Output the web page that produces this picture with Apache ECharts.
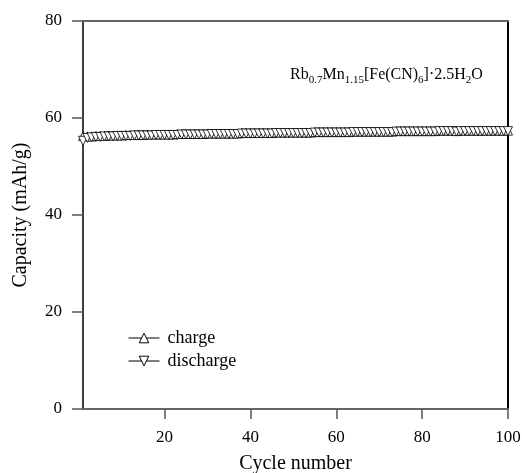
<!DOCTYPE html>
<html>
<head>
<meta charset="utf-8">
<script src="https://cdn.jsdelivr.net/npm/echarts@6/dist/echarts.min.js"></script>
<style>html,body{margin:0;padding:0;background:#fff;}#c{width:522px;height:473px;}</style>
</head>
<body>
<div id="c"></div>
<script>
var cycles = [];
for (var i = 1; i <= 100; i++) cycles.push(i);
var chargeCapacity = [
56.3,56.2,56.2,56.3,56.3,56.3,56.4,56.4,56.4,56.4,
56.5,56.5,56.5,56.5,56.5,56.6,56.6,56.6,56.6,56.6,
56.6,56.6,56.7,56.7,56.7,56.7,56.7,56.7,56.7,56.8,
56.8,56.8,56.8,56.8,56.8,56.8,56.8,56.9,56.9,56.9,
56.9,56.9,56.9,56.9,56.9,57.0,57.0,57.0,57.0,57.0,
57.0,57.0,57.0,57.0,57.1,57.1,57.1,57.1,57.1,57.1,
57.1,57.1,57.1,57.2,57.2,57.2,57.2,57.2,57.2,57.2,
57.2,57.2,57.2,57.3,57.3,57.3,57.3,57.3,57.3,57.3,
57.3,57.3,57.3,57.4,57.4,57.4,57.4,57.3,57.4,57.4,
57.4,57.4,57.4,57.4,57.4,57.4,57.4,57.4,57.4,57.4
];
var dischargeCapacity = [
55.3,55.9,56.0,56.1,56.1,56.2,56.2,56.2,56.3,56.3,
56.3,56.3,56.4,56.4,56.4,56.4,56.4,56.5,56.5,56.5,
56.5,56.5,56.5,56.6,56.6,56.6,56.6,56.6,56.6,56.6,
56.7,56.7,56.7,56.7,56.7,56.7,56.7,56.8,56.8,56.8,
56.8,56.8,56.8,56.8,56.8,56.9,56.9,56.9,56.9,56.9,
56.9,56.9,56.9,56.9,57.0,57.0,57.0,57.0,57.0,57.0,
57.0,57.0,57.0,57.1,57.1,57.1,57.1,57.1,57.1,57.1,
57.1,57.1,57.1,57.2,57.2,57.2,57.2,57.2,57.2,57.2,
57.2,57.2,57.2,57.3,57.3,57.3,57.3,57.2,57.3,57.3,
57.3,57.3,57.3,57.3,57.3,57.3,57.3,57.3,57.3,57.3
];
var xTicks = [20, 40, 60, 80, 100];
var seriesNames = ['charge', 'discharge'];

function pairs(xs, ys) { return xs.map(function (x, i) { return [x, ys[i]]; }); }

var FONT = 'Liberation Serif';
var chart = echarts.init(document.getElementById('c'), null, {renderer: 'canvas'});

chart.setOption({
  animation: false,
  backgroundColor: '#fff',
  textStyle: {fontFamily: FONT},
  grid: {left: 83, right: 14, top: 21, bottom: 64, containLabel: false, outerBoundsMode: 'none'},
  legend: {
    left: 128, top: 329, padding: 0, orient: 'vertical', itemGap: 5, itemWidth: 31, itemHeight: 12,
    data: seriesNames,
    itemStyle: {borderWidth: 1},
    lineStyle: {width: 1},
    textStyle: {fontFamily: FONT, fontSize: 18, color: '#000', padding: [0, 0, 0, 3]}
  },
  xAxis: [{
    type: 'value', min: 1, max: 100, position: 'bottom',
    name: 'Cycle number', nameLocation: 'middle', nameGap: 45,
    nameTextStyle: {fontFamily: FONT, fontSize: 20, color: '#000'},
    axisLine: {show: true, onZero: false, lineStyle: {color: '#666', width: 2}},
    axisTick: {show: true, inside: false, length: 10, customValues: xTicks, lineStyle: {color: '#555', width: 1.5}},
    axisLabel: {customValues: xTicks, margin: 20, fontFamily: FONT, fontSize: 17, color: '#000'},
    splitLine: {show: false}
  }, {
    type: 'value', min: 1, max: 100, position: 'top',
    axisLine: {show: true, onZero: false, lineStyle: {color: '#666', width: 2}},
    axisTick: {show: false}, axisLabel: {show: false}, splitLine: {show: false}
  }],
  yAxis: [{
    type: 'value', min: 0, max: 80, interval: 20, position: 'left',
    name: 'Capacity (mAh/g)', nameLocation: 'middle', nameGap: 52, nameRotate: 90,
    nameTextStyle: {fontFamily: FONT, fontSize: 20, color: '#000'},
    axisLine: {show: true, onZero: false, lineStyle: {color: '#000', width: 1.5}},
    axisTick: {show: true, inside: false, length: 11, lineStyle: {color: '#555', width: 1.5}},
    axisLabel: {margin: 21, fontFamily: FONT, fontSize: 17, color: '#000'},
    splitLine: {show: false}
  }, {
    type: 'value', min: 0, max: 80, interval: 20, position: 'right',
    axisLine: {show: true, onZero: false, lineStyle: {color: '#000', width: 2}},
    axisTick: {show: false}, axisLabel: {show: false}, splitLine: {show: false}
  }],
  series: [{
    name: seriesNames[0], type: 'line', data: pairs(cycles, chargeCapacity),
    symbol: 'triangle', symbolSize: 9, showAllSymbol: true,
    lineStyle: {color: '#000', width: 1},
    itemStyle: {color: '#fff', borderColor: '#000', borderWidth: 0.8},
    color: '#000'
  }, {
    name: seriesNames[1], type: 'line', data: pairs(cycles, dischargeCapacity),
    symbol: 'triangle', symbolRotate: 180, symbolSize: 9, showAllSymbol: true,
    lineStyle: {color: '#000', width: 1},
    itemStyle: {color: '#fff', borderColor: '#000', borderWidth: 0.8},
    color: '#000'
  }],
  graphic: [{
    type: 'text', left: 290, top: 67,
    style: {
      text: '{n|Rb}{s|0.7}{n|Mn}{s|1.15}{n|[Fe(CN)}{s|6}{n|]·2.5H}{s|2}{n|O}',
      rich: {
        n: {fontFamily: FONT, fontSize: 16, color: '#000', lineHeight: 22, verticalAlign: 'middle'},
        s: {fontFamily: FONT, fontSize: 11, color: '#000', lineHeight: 22, verticalAlign: 'bottom'}
      }
    }
  }]
});
</script>
</body>
</html>
